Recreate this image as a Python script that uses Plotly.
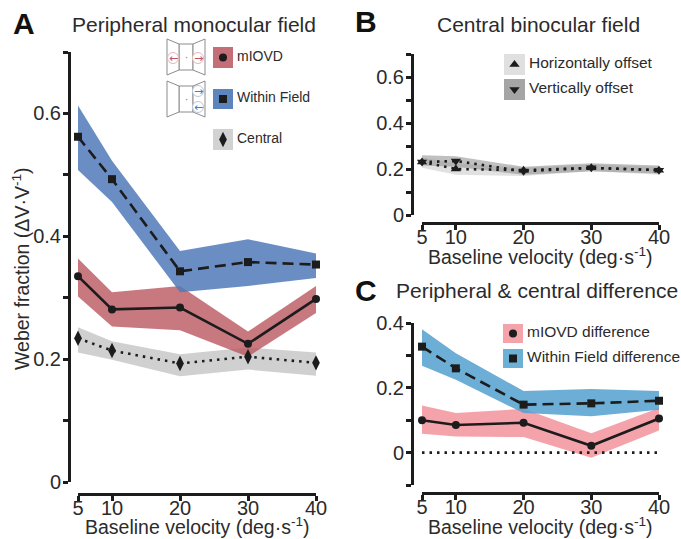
import plotly.graph_objects as go

W, H = 681, 539
velocity = [5, 10, 20, 30, 40]
x_ticks = [5, 10, 20, 30, 40]

a_within = [0.562, 0.493, 0.343, 0.358, 0.354]
a_within_hi = [0.613, 0.523, 0.376, 0.395, 0.372]
a_within_lo = [0.508, 0.456, 0.309, 0.319, 0.332]
a_miovd = [0.335, 0.281, 0.284, 0.225, 0.298]
a_miovd_hi = [0.364, 0.309, 0.319, 0.245, 0.319]
a_miovd_lo = [0.302, 0.253, 0.247, 0.204, 0.275]
a_central = [0.234, 0.214, 0.193, 0.204, 0.194]
a_central_hi = [0.252, 0.229, 0.208, 0.219, 0.211]
a_central_lo = [0.211, 0.199, 0.172, 0.183, 0.173]

b_horiz = [0.230, 0.200, 0.195, 0.205, 0.195]
b_horiz_hi = [0.250, 0.225, 0.205, 0.220, 0.210]
b_horiz_lo = [0.205, 0.175, 0.170, 0.190, 0.175]
b_vert = [0.230, 0.235, 0.190, 0.205, 0.195]
b_vert_hi = [0.260, 0.255, 0.210, 0.225, 0.215]
b_vert_lo = [0.215, 0.210, 0.175, 0.190, 0.180]

c_within = [0.327, 0.260, 0.148, 0.152, 0.160]
c_within_hi = [0.381, 0.307, 0.190, 0.196, 0.190]
c_within_lo = [0.268, 0.225, 0.122, 0.112, 0.132]
c_miovd = [0.100, 0.085, 0.092, 0.021, 0.105]
c_miovd_hi = [0.145, 0.122, 0.135, 0.060, 0.138]
c_miovd_lo = [0.058, 0.050, 0.048, -0.016, 0.068]
c_zero = [0, 0, 0, 0, 0]

INK = "#1c1c1c"
TXT = "#2b2b2b"
FONT = "Liberation Sans"
BLUE = "rgba(80,122,184,0.85)"
RED = "rgba(186,88,96,0.80)"
GREY = "rgba(200,200,200,0.85)"
LGREY = "rgba(205,205,205,0.6)"
DGREY = "rgba(140,140,140,0.55)"
PINK = "rgba(243,140,150,0.80)"
SKY = "rgba(82,160,207,0.85)"
DOT = "2.5px,5px"
DASH = "11px,6px"

fig = go.Figure()


def px_x(v):
    return v / W


def px_y(v):
    return 1 - v / H


def panel(n, left, right, top, bottom, spine_x, spine_y, yrange, yticks, yminor):
    sfx = "" if n == 1 else str(n)
    fig.update_layout({
        f"xaxis{sfx}": dict(
            domain=[px_x(left), px_x(right)], range=[5, 40], anchor="free",
            position=px_y(spine_y), tickvals=x_ticks, ticktext=[str(t) for t in x_ticks],
            ticks="outside", ticklen=5, tickwidth=2.5, tickcolor=INK, showline=True,
            linewidth=3, linecolor=INK, showgrid=False, zeroline=False,
            ticklabelstandoff=-10,
            tickfont=dict(size=20, family=FONT, color=TXT)),
        f"yaxis{sfx}": dict(
            domain=[px_y(bottom), px_y(top)], range=yrange, anchor="free",
            position=px_x(spine_x), tickvals=yticks, ticktext=[("%g" % t) for t in yticks],
            ticks="outside", ticklen=5, tickwidth=2.5, tickcolor=INK, showline=True,
            linewidth=3, linecolor=INK, showgrid=False, zeroline=False,
            ticklabelstandoff=-2,
            minor=dict(tickvals=yminor, ticks="outside", ticklen=5, tickwidth=2.5, tickcolor=INK),
            tickfont=dict(size=20, family=FONT, color=TXT)),
    })


panel(1, 78, 316, 52, 482, 69, 494, [0, 0.7], [0, 0.2, 0.4, 0.6], [0.1, 0.3, 0.5, 0.7])
panel(2, 422, 659, 54, 215, 412, 223, [0, 0.7], [0, 0.2, 0.4, 0.6], [0.1, 0.3, 0.5, 0.7])
panel(3, 422, 659, 323, 485, 412, 493, [-0.1, 0.4], [0, 0.2, 0.4], [-0.1, 0.1, 0.3])


def band(n, hi, lo, color):
    sfx = "" if n == 1 else str(n)
    fig.add_trace(go.Scatter(
        x=velocity + velocity[::-1], y=hi + lo[::-1], mode="lines", fill="toself",
        fillcolor=color, line=dict(width=0), hoverinfo="skip", showlegend=False,
        xaxis=f"x{sfx}", yaxis=f"y{sfx}"))


def curve(n, y, dash, sym, size=8):
    sfx = "" if n == 1 else str(n)
    fig.add_trace(go.Scatter(
        x=velocity, y=y, mode="lines+markers", cliponaxis=False,
        line=dict(color=INK, width=2.6, dash=dash),
        marker=dict(symbol=sym, size=size, color=INK), showlegend=False,
        xaxis=f"x{sfx}", yaxis=f"y{sfx}"))


band(1, a_central_hi, a_central_lo, GREY)
band(1, a_miovd_hi, a_miovd_lo, RED)
band(1, a_within_hi, a_within_lo, BLUE)
curve(1, a_central, DOT, "diamond-tall", 11)
curve(1, a_within, DASH, "square")
curve(1, a_miovd, "solid", "circle", 8)

band(2, b_horiz_hi, b_horiz_lo, LGREY)
band(2, b_vert_hi, b_vert_lo, DGREY)
curve(2, b_horiz, DOT, "triangle-up", 9)
curve(2, b_vert, DOT, "triangle-down", 9)

band(3, c_miovd_hi, c_miovd_lo, PINK)
band(3, c_within_hi, c_within_lo, SKY)
fig.add_trace(go.Scatter(x=velocity, y=c_zero, mode="lines", cliponaxis=False,
                         line=dict(color=INK, width=2.6, dash=DOT), showlegend=False,
                         xaxis="x3", yaxis="y3"))
curve(3, c_within, DASH, "square")
curve(3, c_miovd, "solid", "circle", 8)

# Overlay in page pixels, for legend glyphs and decoration
fig.update_layout(
    xaxis4=dict(domain=[0, 1], range=[0, W], visible=False, fixedrange=True),
    yaxis4=dict(domain=[0, 1], range=[H, 0], visible=False, fixedrange=True, anchor="x4"),
)

shapes = []
ann = []


def text(x, y, s, size, anchor="left", bold=False, color=TXT, angle=0):
    ann.append(dict(x=x, y=y, xref="x4", yref="y4", text=f"<b>{s}</b>" if bold else s,
                    showarrow=False, xanchor=anchor, yanchor="middle", textangle=angle,
                    font=dict(family=FONT, size=size, color=color)))


def key(x0, x1, y0, y1, color, sym, size, label, tx, fs):
    shapes.append(dict(type="rect", xref="x4", yref="y4", x0=x0, x1=x1, y0=y0, y1=y1,
                       fillcolor=color, line=dict(width=0), layer="below"))
    fig.add_trace(go.Scatter(x=[(x0 + x1) / 2], y=[(y0 + y1) / 2], mode="markers",
                             marker=dict(symbol=sym, size=size, color=INK), showlegend=False,
                             xaxis="x4", yaxis="y4", hoverinfo="skip"))
    text(tx, (y0 + y1) / 2 - 2, label, fs)


key(213, 233, 47, 68, "#c46f77", "circle", 8, "mIOVD", 235, 14)
key(213, 233, 89, 109, "#5d85bd", "square", 8, "Within Field", 235, 14)
key(213, 233, 129, 150, "#d2d2d2", "diamond-tall", 11, "Central", 235, 14)
key(504, 525, 54, 75, "#e0e0e0", "triangle-up", 9, "Horizontally offset", 527, 15.5)
key(504, 525, 79, 100, "#a5a5a5", "triangle-down", 9, "Vertically offset", 527, 15.5)
key(503, 523, 324, 343, "#f5a3aa", "circle", 8, "mIOVD difference", 525, 15.5)
key(503, 523, 349, 368, "#6cb0d6", "square", 8, "Within Field difference", 525, 15.5)


def poly(pts, color="#8c8c8c"):
    path = "M " + " L ".join(f"{x},{y}" for x, y in pts) + " Z"
    shapes.append(dict(type="path", xref="x4", yref="y4", path=path,
                       line=dict(color=color, width=1), fillcolor="white"))


def icon(dy):
    poly([(179, 44 + dy), (193, 44 + dy), (193, 70 + dy), (179, 70 + dy)])
    poly([(167, 39 + dy), (179, 44 + dy), (179, 70 + dy), (167, 75 + dy)])
    poly([(193, 44 + dy), (205, 39 + dy), (205, 75 + dy), (193, 70 + dy)])
    ann.append(dict(x=186, y=57 + dy, xref="x4", yref="y4", text="·", showarrow=False,
                    font=dict(size=10, color="#c0555d", family=FONT)))


def spot(cx, cy, color, ring, arrow):
    shapes.append(dict(type="circle", xref="x4", yref="y4", x0=cx - 5.5, x1=cx + 5.5,
                       y0=cy - 5.5, y1=cy + 5.5, line=dict(color=ring, width=1),
                       fillcolor="white"))
    ann.append(dict(x=cx, y=cy, xref="x4", yref="y4", text=arrow, showarrow=False,
                    font=dict(size=11, color=color, family="DejaVu Sans")))


icon(0)
icon(42)
spot(173, 58, "#c0555d", "#e3b6ba", "←")
spot(198, 58, "#c0555d", "#e3b6ba", "→")
spot(198, 91, "#4f7cbb", "#b9c6dc", "→")
spot(198, 107, "#4f7cbb", "#b9c6dc", "←")

text(24, 23, "A", 30, "center", True, "#111")
text(366, 21, "B", 30, "center", True, "#111")
text(366, 290, "C", 30, "center", True, "#111")
text(194, 24, "Peripheral monocular field", 21, "center")
text(538, 24, "Central binocular field", 21, "center")
text(537, 290, "Peripheral &amp; central difference", 21, "center")
XT = "Baseline velocity (deg·s<sup>-1</sup>)"
text(197, 526, XT, 19.5, "center")
text(540, 256, XT, 19.5, "center")
text(540, 526, XT, 19.5, "center")
text(21, 269, "Weber fraction (ΔV·V<sup>-1</sup>)", 19.5, "center", angle=-90)

fig.update_layout(width=W, height=H, margin=dict(l=0, r=0, t=0, b=0, autoexpand=False), autosize=False,
                  paper_bgcolor="white", plot_bgcolor="rgba(0,0,0,0)",
                  shapes=shapes, annotations=ann, showlegend=False)
fig.write_html("out.html", config=dict(displayModeBar=False),
               post_script="document.body.style.margin='0';document.documentElement.style.overflow='hidden';")
